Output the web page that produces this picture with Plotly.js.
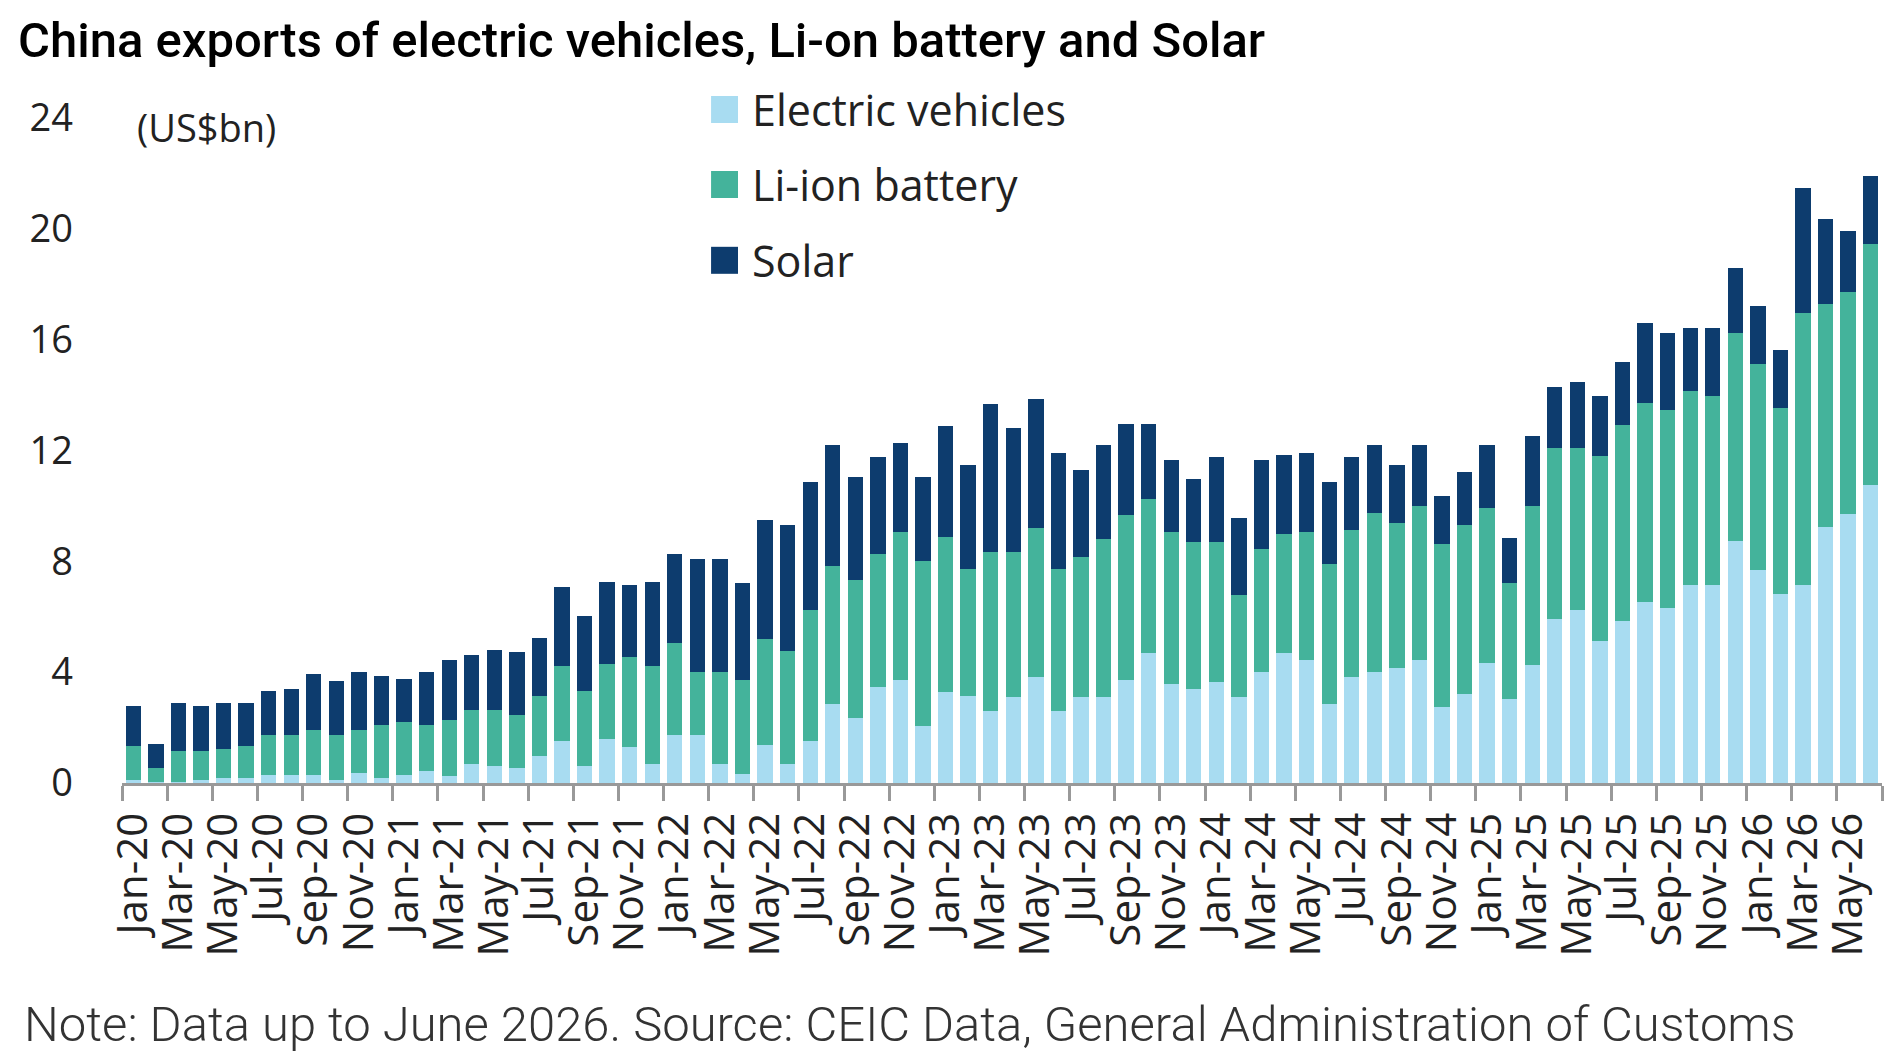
<!DOCTYPE html>
<html>
<head>
<meta charset="utf-8">
<script src="https://cdn.plot.ly/plotly-3.0.1.min.js"></script>
<style>
  html, body { margin: 0; padding: 0; background: #fff; }
  #chart { width: 1896px; height: 1055px; }
</style>
</head>
<body>
<div id="chart"></div>
<script>
// month labels Jan-20 .. Jun-26
var monthNames = ['Jan','Feb','Mar','Apr','May','Jun','Jul','Aug','Sep','Oct','Nov','Dec'];
var yearCodes = ['20','21','22','23','24','25','26'];
var months = [];
yearCodes.forEach(function(y) {
  monthNames.forEach(function(m) {
    if (months.length < 78) months.push(m + '-' + y);
  });
});

// US$bn
var ev = [0.11,0.02,0.03,0.11,0.19,0.19,0.28,0.28,0.28,0.11,0.35,0.19,
          0.28,0.44,0.26,0.70,0.61,0.53,0.96,1.50,0.61,1.59,1.31,0.70,
          1.74,1.74,0.69,0.32,1.37,0.69,1.53,2.85,2.33,3.45,3.73,2.07,
          3.29,3.13,2.60,3.11,3.81,2.60,3.11,3.11,3.73,4.69,3.56,3.38,
          3.63,3.11,3.99,4.69,4.44,2.85,3.81,3.99,4.16,4.44,2.76,3.21,
          4.34,3.03,4.25,5.91,6.26,5.14,5.85,6.55,6.30,7.15,7.15,8.74,
          7.69,6.82,7.15,9.25,9.70,10.76];
var liion = [1.21,0.52,1.11,1.03,1.05,1.13,1.46,1.46,1.64,1.63,1.57,1.91,
             1.91,1.66,2.01,1.92,2.01,1.92,2.19,2.71,2.71,2.69,3.23,3.51,
             3.31,2.27,3.30,3.41,3.82,4.08,4.72,4.97,4.98,4.81,5.32,5.93,
             5.58,4.61,5.75,5.24,5.41,5.14,5.06,5.68,5.93,5.57,5.49,5.32,
             5.07,3.67,4.45,4.28,4.61,5.06,5.32,5.76,5.24,5.57,5.85,6.10,
             5.59,4.18,5.76,6.19,5.84,6.66,7.07,7.15,7.16,7.01,6.82,7.51,
             7.43,6.73,9.80,8.05,8.03,8.71];
var solar = [1.47,0.85,1.74,1.65,1.64,1.56,1.57,1.66,2.01,1.93,2.08,1.75,
             1.56,1.90,2.18,2.00,2.18,2.26,2.08,2.86,2.69,2.97,2.61,3.03,
             3.23,4.09,4.09,3.48,4.29,4.53,4.62,4.37,3.75,3.49,3.22,3.06,
             4.01,3.75,5.32,4.45,4.63,4.18,3.13,3.40,3.31,2.71,2.61,2.26,
             3.05,2.79,3.22,2.87,2.87,2.96,2.62,2.44,2.09,2.18,1.75,1.92,
             2.26,1.65,2.51,2.18,2.36,2.17,2.27,2.89,2.77,2.25,2.44,2.34,
             2.08,2.08,4.52,3.04,2.18,2.44];

var seriesNames = ['Electric vehicles', 'Li-ion battery', 'Solar'];
var seriesColors = ['#a8dcf1', '#44b39b', '#0d3c6e'];
var seriesValues = [ev, liion, solar];
var yTicks = [0, 4, 8, 12, 16, 20, 24];

var data = seriesValues.map(function(vals, i) {
  return {
    type: 'bar',
    name: seriesNames[i],
    x: months,
    y: vals,
    marker: {color: seriesColors[i], line: {width: 0}},
    hoverinfo: 'x+y+name'
  };
});

var tickFont = {family: '"Open Sans", "Noto Sans", sans-serif', size: 38, color: '#222'};
var xTickFont = {family: '"Open Sans", "Noto Sans", sans-serif', size: 42, color: '#222'};
var legendFont = {family: '"Open Sans", "Noto Sans", sans-serif', size: 43, color: '#222'};

// hand-made legend: bigger swatches than plotly's fixed legend icons
var legendY = [1.0128, 0.900, 0.786];
var shapes = [];
var annotations = [];
seriesNames.forEach(function(name, i) {
  shapes.push({
    type: 'rect', xref: 'paper', yref: 'paper',
    x0: 0.3347, x1: 0.3500,
    y0: legendY[i] - 0.0203, y1: legendY[i] + 0.0203,
    fillcolor: seriesColors[i], line: {width: 0}
  });
  annotations.push({
    xref: 'paper', yref: 'paper', x: 0.357, y: legendY[i],
    xanchor: 'left', yanchor: 'middle', showarrow: false,
    text: name, font: legendFont
  });
});

annotations.push({
  xref: 'paper', yref: 'paper', x: 0.0074, y: 0.986,
  xanchor: 'left', yanchor: 'middle', showarrow: false,
  text: '(US$bn)', font: tickFont
});
annotations.push({
  xref: 'paper', yref: 'paper', x: -0.0568, y: -0.3636,
  xanchor: 'left', yanchor: 'middle', showarrow: false,
  text: 'Note: Data up to June 2026. Source: CEIC Data, General Administration of Customs',
  font: {family: '"Roboto Light", Roboto, sans-serif', size: 49, weight: 300, color: '#333'}
});

var layout = {
  width: 1896,
  height: 1055,
  paper_bgcolor: '#fff',
  plot_bgcolor: '#fff',
  margin: {l: 122, r: 14, t: 117.5, b: 272},
  barmode: 'stack',
  bargap: 0.32,
  showlegend: false,
  title: {
    text: 'China exports of electric vehicles, Li-on battery and Solar',
    x: 0.0095, xanchor: 'left',
    y: 0.962, yanchor: 'middle', yref: 'container',
    font: {family: 'Roboto, sans-serif', size: 49, weight: 500, color: '#000'}
  },
  xaxis: {
    type: 'category',
    tickmode: 'linear', tick0: 0, dtick: 2,
    tickson: 'boundaries',
    tickangle: -90,
    ticks: 'outside', ticklen: 15, tickwidth: 3, tickcolor: '#999',
    showline: true, linecolor: '#999', linewidth: 3,
    showgrid: false, zeroline: false,
    ticklabelstandoff: 10,
    tickfont: xTickFont
  },
  yaxis: {
    range: [0, 24],
    tickmode: 'array', tickvals: yTicks,
    showgrid: false, zeroline: false, showline: false,
    ticks: '',
    ticklabelstandoff: 48,
    tickfont: tickFont
  },
  shapes: shapes,
  annotations: annotations
};

Plotly.newPlot('chart', data, layout, {displayModeBar: false, staticPlot: true});
</script>
</body>
</html>
